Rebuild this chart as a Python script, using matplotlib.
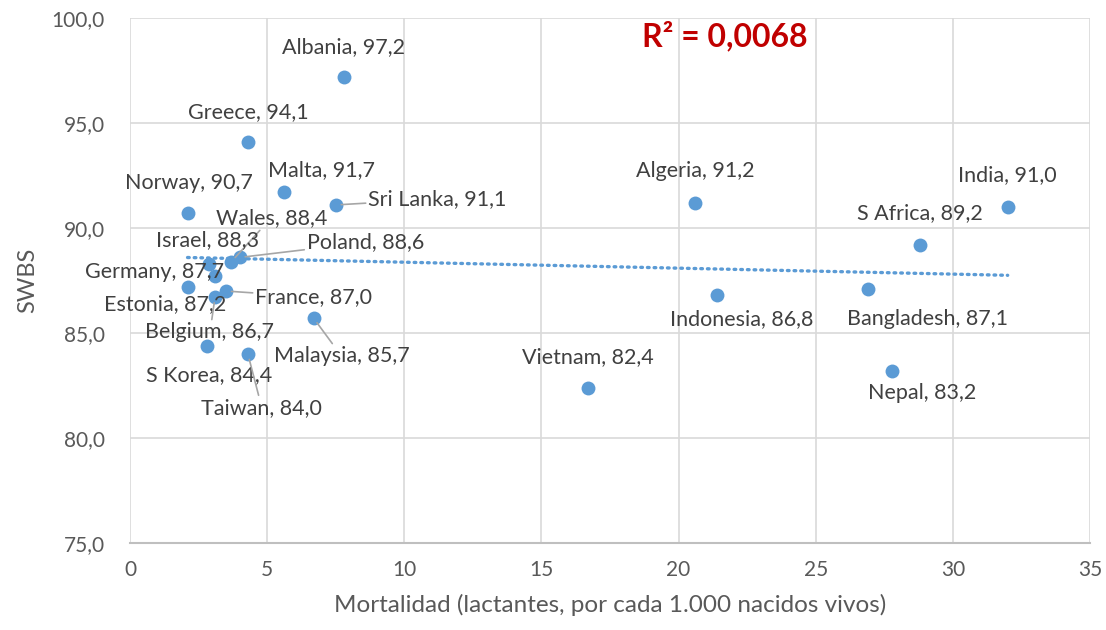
import matplotlib
matplotlib.use("Agg")
import matplotlib.pyplot as plt
from matplotlib.ticker import FuncFormatter, MultipleLocator
import numpy as np

# ── DATA ────────────────────────────────────────────────────────────────
countries = ["Albania", "Greece", "Malta", "Sri Lanka", "Norway", "Wales",
             "Israel", "Poland", "Germany", "Estonia", "France", "Belgium",
             "Malaysia", "S Korea", "Taiwan", "Algeria", "India", "S Africa",
             "Indonesia", "Bangladesh", "Vietnam", "Nepal"]
mortality = [7.8, 4.3, 5.6, 7.5, 2.1, 3.7,
             2.9, 4.0, 3.1, 2.1, 3.5, 3.1,
             6.7, 2.8, 4.3, 20.6, 32.0, 28.8,
             21.4, 26.9, 16.7, 27.8]
swbs = [97.2, 94.1, 91.7, 91.1, 90.7, 88.4,
        88.3, 88.6, 87.7, 87.2, 87.0, 86.7,
        85.7, 84.4, 84.0, 91.2, 91.0, 89.2,
        86.8, 87.1, 82.4, 83.2]
r2_text = "R² = 0,0068"

# label offsets in pixels (dx, dy); leader lines for crowded labels
label_offsets = [(0, 30), (0, 30), (38, 22), (102, 6), (1, 30), (40, 44),
                 (-2, 24), (126, 15), (-60, 4), (-22, -17), (88, -6), (-5, -35),
                 (28, -38), (2, -29), (14, -54), (0, 32), (0, 32), (0, 32),
                 (25, -24), (60, -30), (0, 31), (30, -22)]
leaders = {"Sri Lanka", "Wales", "Poland", "France", "Belgium", "Malaysia", "Taiwan"}

# ── STYLE ───────────────────────────────────────────────────────────────
BLUE = "#5B9BD5"
GRID = "#D9D9D9"
TXT = "#404040"
plt.rcParams["font.family"] = ["Lato", "DejaVu Sans"]

fig = plt.figure(figsize=(11.06, 6.3), dpi=100)
ax = fig.add_axes([0.1175, 0.138, 0.868, 0.8334])

ax.scatter(mortality, swbs, s=100, color=BLUE, zorder=3, linewidths=0)

# linear trend line
coef = np.polyfit(mortality, swbs, 1)
xs = np.array([min(mortality), max(mortality)])
ax.plot(xs, np.polyval(coef, xs), color=BLUE, lw=2.4, ls=(0, (0.5, 1.5)),
        dash_capstyle="round", zorder=2)

for name, x, y, (dx, dy) in zip(countries, mortality, swbs, label_offsets):
    label = f"{name}, {y:.1f}".replace(".", ",")
    arrow = dict(arrowstyle="-", color="#A6A6A6", lw=1.2, shrinkA=0, shrinkB=4) if name in leaders else None
    ax.annotate(label, xy=(x, y), xytext=(dx, dy), textcoords="offset pixels",
                ha="center", va="center", fontsize=15.5, color=TXT,
                arrowprops=arrow, zorder=4)

ax.text(0.62, 0.9655, r2_text, transform=ax.transAxes, ha="center", va="center",
        fontsize=23, fontweight="bold", color="#C00000")

# ── AXES ────────────────────────────────────────────────────────────────
ax.set_xlim(0, 35)
ax.set_ylim(75, 100)
ax.xaxis.set_major_locator(MultipleLocator(5))
ax.yaxis.set_major_locator(MultipleLocator(5))
ax.yaxis.set_major_formatter(FuncFormatter(lambda v, p: f"{v:.1f}".replace(".", ",")))
ax.grid(True, color=GRID, lw=1.2)
ax.set_axisbelow(True)
for s in ["top", "right", "left"]:
    ax.spines[s].set_visible(False)
ax.spines["bottom"].set_color("#BFBFBF")
ax.spines["bottom"].set_linewidth(1.5)
ax.tick_params(length=0, labelsize=15, labelcolor="#595959")
ax.tick_params(axis="x", pad=12)
ax.tick_params(axis="y", pad=18)
ax.set_xlabel("Mortalidad (lactantes, por cada 1.000 nacidos vivos)", fontsize=17.5,
              color="#595959", labelpad=10)
ax.set_ylabel("SWBS", fontsize=17, color="#595959", labelpad=10)

fig.savefig("out.png", dpi=100)
